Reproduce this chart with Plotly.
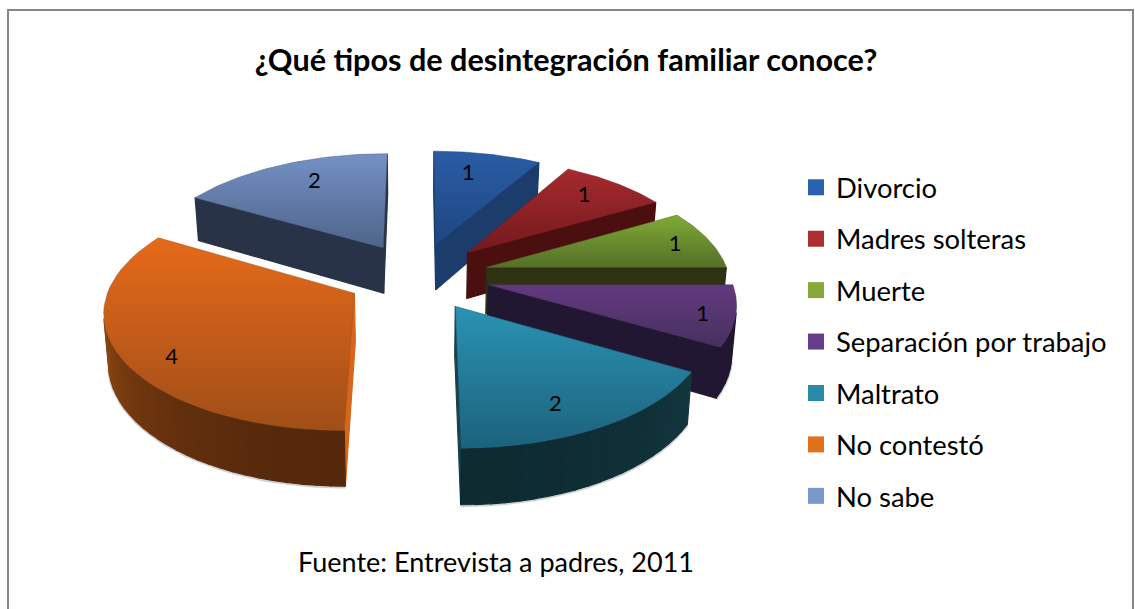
import math
import plotly.graph_objects as go

# ---- data ----
CATEGORIES = ["Divorcio", "Madres solteras", "Muerte", "Separación por trabajo",
              "Maltrato", "No contestó", "No sabe"]
VALUES = [1, 1, 1, 1, 2, 4, 2]
TITLE = "¿Qué tipos de desintegración familiar conoce?"
SOURCE = "Fuente: Entrevista a padres, 2011"

# ---- styles ----
TOP_LIGHT = ["#2a5da5", "#a52a2d", "#7faa35", "#63397f", "#2a93b4", "#e66a1a", "#7491c6"]
TOP_DARK = ["#1f4680", "#741a1e", "#566f28", "#46305f", "#1c627c", "#a04e18", "#4f6488"]
SIDE_A = ["#1c3c6c", "#4b0f0f", "#2d3212", "#221732", "#18414c", "#9a4e14", "#293347"]
SIDE_B = ["#1c3c6c", "#4b0f0f", "#2d3212", "#221732", "#0e2b32", "#55280c", "#293347"]
SWATCH = ["#2a62ad", "#ad2f30", "#87a83d", "#663c8f", "#2a8aa8", "#e0701e", "#7c98c9"]
STRIP = {5: "#d8661a"}
LABEL_NUDGE = [(-10, 4), (-4, 0), (10, 1), (18, 6), (-15, 6), (2, 15), (14, 2)]

CX, CY = 418, 276          # ground-plane centre on the page
R, EXPLODE = 242, 72       # pie radius, slice pull
K, P = 0.47, 0.000556      # tilt and perspective
H = 47                     # thickness


def project(x, y, bottom=False):
    s = 1 / (1 + P * y)
    px = CX + x * s * (0.985 if bottom else 1)
    py = CY - K * y * s + (H * s if bottom else 0)
    return px, py


def shoelace(pts):
    a = 0
    for i in range(len(pts)):
        x0, y0 = pts[i]
        x1, y1 = pts[(i + 1) % len(pts)]
        a += x0 * y1 - x1 * y0
    return a / 2


def mix(c0, c1, t):
    a = [int(c0[i:i + 2], 16) for i in (1, 3, 5)]
    b = [int(c1[i:i + 2], 16) for i in (1, 3, 5)]
    return "rgb(%d,%d,%d)" % tuple(round(a[i] + (b[i] - a[i]) * t) for i in range(3))


def poly(pts, color):
    xs = [p[0] for p in pts] + [pts[0][0]]
    ys = [p[1] for p in pts] + [pts[0][1]]
    return go.Scatter(x=xs, y=ys, mode="lines", fill="toself", fillcolor=color,
                      line=dict(color=color, width=1.2), hoverinfo="skip", showlegend=False)


total = sum(VALUES)
slices = []
acc = 0
for i, v in enumerate(VALUES):
    a0 = acc / total * 2 * math.pi
    acc += v
    a1 = acc / total * 2 * math.pi
    mid = (a0 + a1) / 2
    slices.append(dict(i=i, a0=a0, a1=a1, mid=mid,
                       ox=EXPLODE * math.sin(mid), oy=EXPLODE * math.cos(mid)))

fig = go.Figure()
for sl in sorted(slices, key=lambda s: -(s["oy"] + R * math.cos(s["mid"]) * 0.3)):
    i, a0, a1, ox, oy = sl["i"], sl["a0"], sl["a1"], sl["ox"], sl["oy"]
    rim = lambda a, b=False: project(ox + R * math.sin(a), oy + R * math.cos(a), b)
    apex_t, apex_b = project(ox, oy), project(ox, oy, True)
    # soft contact shadow along the lower rim
    n = max(4, int(math.degrees(a1 - a0) / 3))
    walls = []
    for k in range(n):
        b0 = a0 + (a1 - a0) * k / n
        b1 = a0 + (a1 - a0) * (k + 1) / n
        q = [rim(b0), rim(b1), rim(b1, True), rim(b0, True)]
        if shoelace(q) < 0:
            walls.append((q, abs(math.cos((b0 + b1) / 2))))
    if walls:
        sx = [w[0][3][0] for w in walls] + [walls[-1][0][2][0]]
        sy = [w[0][3][1] + 1 for w in walls] + [walls[-1][0][2][1] + 1]
        fig.add_trace(go.Scatter(x=sx, y=sy, mode="lines", hoverinfo="skip", showlegend=False,
                                 line=dict(color="rgba(0,0,0,0.18)", width=3)))
    # radial faces
    q = [apex_t, rim(a0), rim(a0, True), apex_b]
    if shoelace(q) < 0:
        fig.add_trace(poly(q, STRIP.get(i, SIDE_A[i])))
    q = [rim(a1), apex_t, apex_b, rim(a1, True)]
    if shoelace(q) < 0:
        fig.add_trace(poly(q, STRIP.get(i, SIDE_A[i])))
    # outer wall
    for q, t in walls:
        fig.add_trace(poly(q, mix(SIDE_A[i], SIDE_B[i], t)))
    # top face
    pts = [apex_t] + [rim(a0 + (a1 - a0) * k / 40) for k in range(41)] + [apex_t]
    fig.add_trace(go.Scatter(
        x=[p[0] for p in pts], y=[p[1] for p in pts], mode="lines", fill="toself",
        line=dict(color=TOP_DARK[i], width=0.5), hoverinfo="skip", showlegend=False,
        fillgradient=dict(type="vertical",
                          colorscale=[[0, TOP_DARK[i]], [1, TOP_LIGHT[i]]])))

# value labels
for sl in slices:
    i = sl["i"]
    x, y = project(sl["ox"] + 0.8 * R * math.sin(sl["mid"]),
                   sl["oy"] + 0.8 * R * math.cos(sl["mid"]))
    fig.add_trace(go.Scatter(x=[x + LABEL_NUDGE[i][0]], y=[y + LABEL_NUDGE[i][1]], mode="text",
                             text=[str(VALUES[i])], textposition="middle center",
                             textfont=dict(family="Lato", size=22, color="#000000"),
                             hoverinfo="skip", showlegend=False))

# legend entries (one group each so the group gap sets the row pitch)
for i, name in enumerate(CATEGORIES):
    fig.add_trace(go.Scatter(x=[None], y=[None], mode="markers", name=name, legendgroup=name,
                             marker=dict(symbol="square", size=18, color=SWATCH[i])))

fig.update_layout(
    width=1135, height=609, autosize=False,
    margin=dict(l=0, r=0, t=0, b=0),
    paper_bgcolor="#ffffff", plot_bgcolor="#ffffff",
    title=dict(text="<b>" + TITLE + "</b>", x=566 / 1135, xanchor="center",
               y=1 - 60 / 609, yanchor="middle",
               font=dict(family="Lato", size=30.6, color="#000000")),
    xaxis=dict(range=[0, 1135], visible=False, fixedrange=True),
    yaxis=dict(range=[609, 0], visible=False, fixedrange=True),
    legend=dict(x=796 / 1135, y=1 - 163 / 609, xanchor="left", yanchor="top",
                font=dict(family="Lato", size=27.4, color="#000000"),
                tracegroupgap=12.8,
                bgcolor="rgba(0,0,0,0)", itemclick=False, itemdoubleclick=False),
    shapes=[dict(type="path", xref="paper", yref="paper",
                 path="M %f 0 L %f %f L %f %f L %f 0" % (
                     8 / 1135, 8 / 1135, 1 - 10 / 609, 1133 / 1135, 1 - 10 / 609, 1133 / 1135),
                 line=dict(color="#868686", width=2))],
    annotations=[dict(text=SOURCE, x=496 / 1135, y=1 - 561 / 609, xref="paper", yref="paper",
                      xanchor="center", yanchor="middle", showarrow=False,
                      font=dict(family="Lato", size=27, color="#000000"))],
)
fig.write_html("out.html", config=dict(displayModeBar=False),
               post_script="document.body.style.margin='0';document.documentElement.style.overflow='hidden';")
